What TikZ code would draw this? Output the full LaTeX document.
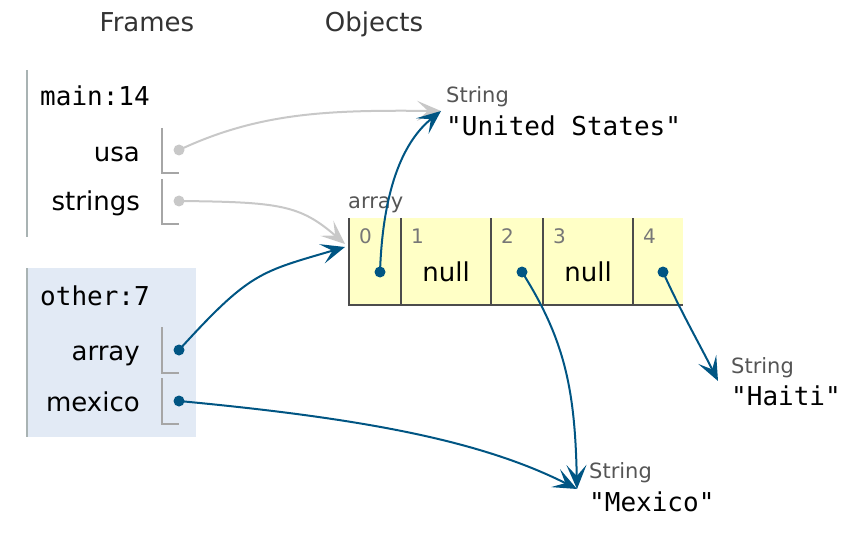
\documentclass[tikz,border=0pt]{standalone}
\usepackage{fontspec}
\setmainfont{DejaVu Sans}
\setmonofont{DejaVu Sans Mono}
\usetikzlibrary{arrows.meta}

\definecolor{ptrblue}{HTML}{005583}
\definecolor{ptrgray}{HTML}{C8C8C8}
\definecolor{barcol}{HTML}{A9B3B3}
\definecolor{framebg}{HTML}{E2EAF5}
\definecolor{heapbg}{HTML}{FFFFC6}
\definecolor{typegray}{HTML}{555555}
\definecolor{idxgray}{HTML}{777777}

\tikzset{
	hdr/.style={font=\fontsize{26}{30}\selectfont, text=black!80, anchor=base},
	fname/.style={font=\ttfamily\fontsize{26}{30}\selectfont, anchor=base west, inner sep=0pt},
	vname/.style={font=\fontsize{26}{30}\selectfont, anchor=base east, inner sep=0pt},
	tname/.style={font=\fontsize{21}{24}\selectfont, text=typegray, anchor=base west, inner sep=0pt},
	sval/.style={font=\ttfamily\fontsize{26}{30}\selectfont, anchor=base west, inner sep=0pt},
	idx/.style={font=\fontsize{20}{24}\selectfont, text=idxgray, anchor=base west, inner sep=0pt},
	nullval/.style={font=\fontsize{26}{30}\selectfont, anchor=base, inner sep=0pt},
	bracket/.style={draw=black!35, line width=1.6pt},
	dotblue/.style={fill=ptrblue},
	dotgray/.style={fill=ptrgray},
	refblue/.style={draw=ptrblue, line width=2pt, -{Stealth[length=24pt, width=20pt, inset=11pt]}},
	refgray/.style={draw=ptrgray, line width=2pt, -{Stealth[length=24pt, width=20pt, inset=11pt]}},
}

\begin{document}
\begin{tikzpicture}[x=1pt, y=-1pt]
	\useasboundingbox (0,0) rectangle (867,556);
	% Headers:
	\node[hdr] (frames) at (147,32) {Frames};
	\node[hdr] (objects) at (374,32) {Objects};

	% Frame main:14
	\draw[barcol, line width=2.5pt] (27,70) -- (27,237);
	\node[fname] (mainf) at (40,106) {main:14};
	\node[vname] (usa) at (140,162) {usa};
	\node[vname] (strings) at (140,211) {strings};
	\draw[bracket] (162,128) |- (179,173);
	\draw[bracket] (162,179) |- (179,224);
	\coordinate (usaPtr) at (179,150);
	\coordinate (stringsPtr) at (179,201);

	% Frame other:7
	\fill[framebg] (27,268) rectangle (196,437);
	\draw[barcol, line width=2.5pt] (27,268) -- (27,437);
	\node[fname] (otherf) at (40,305) {other:7};
	\node[vname] (array) at (140,360) {array};
	\node[vname] (mexico) at (140,411) {mexico};
	\draw[bracket] (162,327) |- (179,373);
	\draw[bracket] (162,378) |- (179,424);
	\coordinate (arrayPtr) at (179,350);
	\coordinate (mexicoPtr) at (179,401);

	% Array object
	\node[tname] (arrlbl) at (348,208) {array};
	\fill[heapbg] (349,218) rectangle (683,305);
	\draw[black!70, line width=1.6pt] (349,218) |- (683,305);
	\foreach \xx in {401,491,543,633}
		\draw[black!70, line width=1.6pt] (\xx,218) -- (\xx,305);
	\node[idx] (i0) at (359,243) {0};
	\node[idx] (i1) at (411,243) {1};
	\node[idx] (i2) at (501,243) {2};
	\node[idx] (i3) at (553,243) {3};
	\node[idx] (i4) at (643,243) {4};
	\node[nullval] (n1) at (446,281) {null};
	\node[nullval] (n3) at (588,281) {null};
	\coordinate (c0Ptr) at (380,272);
	\coordinate (c2Ptr) at (522,272);
	\coordinate (c4Ptr) at (663,272);
	\coordinate (arrInG) at (345,244);
	\coordinate (arrInB) at (345,247);

	% Strings
	\node[tname] (usT) at (446,103) {String};
	\node[sval] (usV) at (446,136) {"United States"};
	\node[tname] (htT) at (731,373) {String};
	\node[sval] (htV) at (731,405) {"Haiti"};
	\node[tname] (mxT) at (589,478) {String};
	\node[sval] (mxV) at (589,511) {"Mexico"};
	\coordinate (usIn) at (441,111);
	\coordinate (htIn) at (718,381);
	\coordinate (mxIn) at (577,489);

	% References:
	\draw[refgray] (usaPtr) .. controls (260,112) and (330,110) .. (usIn);
	\draw[refgray] (stringsPtr) .. controls (280,202) and (300,205) .. (arrInG);
	\draw[refblue] (arrayPtr) .. controls (250,272) and (260,272) .. (arrInB);
	\draw[refblue] (mexicoPtr) .. controls (360,418) and (480,440) .. (mxIn);
	\draw[refblue] (c0Ptr) .. controls (383,185) and (405,140) .. (usIn);
	\draw[refblue] (c2Ptr) .. controls (565,340) and (575,390) .. (mxIn);
	\draw[refblue] (c4Ptr) .. controls (680,310) and (700,345) .. (htIn);

	\foreach \p in {usaPtr,stringsPtr}
		\fill[dotgray] (\p) circle (5.5);
	\foreach \p in {arrayPtr,mexicoPtr,c0Ptr,c2Ptr,c4Ptr}
		\fill[dotblue] (\p) circle (5.5);
\end{tikzpicture}
\end{document}
